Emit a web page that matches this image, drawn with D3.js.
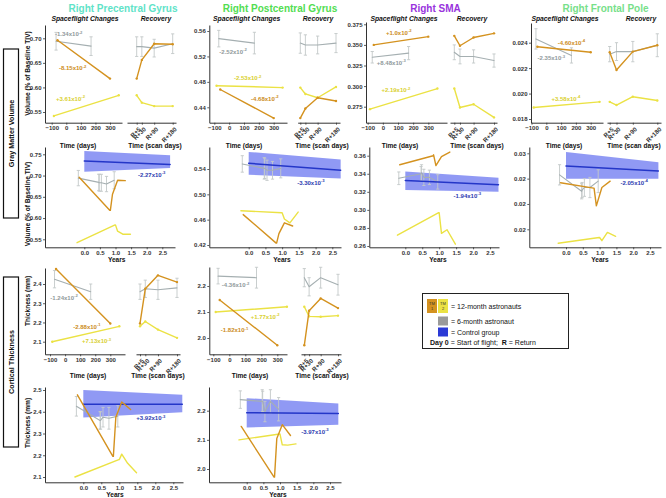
<!DOCTYPE html>
<html><head><meta charset="utf-8">
<script src="https://cdn.jsdelivr.net/npm/d3@7"></script>
<style>
html,body{margin:0;padding:0;background:#fff;}
svg{display:block;}
</style></head><body>
<svg id="chart" width="666" height="498"></svg>
<script>
// ---------------- DATA ----------------
const tickDays = [-100, 0, 100, 200, 300];
const tickYears = [0, 0.5, 1, 1.5, 2, 2.5];
const recoveryDays = [5, 30, 90, 180];
const recoveryLabels = ["R+5", "R+30", "R+90", "R+180"];
const tm1FlightDays = [-60, 300];
const tm2FlightDays = [-85, 360];
const sixFlightDays = [-70, 170];
const controlYears = [0, 2.75];

// Gray matter volume – Right Precentral Gyrus
const gmPreTM1 = [0.696, 0.618];
const gmPreTM1Rec = [0.618, 0.656, 0.689, 0.688];
const gmPreTM2 = [0.542, 0.584];
const gmPreTM2Rec = [0.584, 0.569, 0.562, 0.562];
const gmPreSix = [0.694, 0.684];
const gmPreSixErr = [0.018, 0.019];
const gmPreSixRec = [0.683, 0.683, 0.680, 0.689];
const gmPreSixRecErr = [0.02, 0.02, 0.018, 0.02];
const gmPreCtrl = [0.734, 0.726];
const gmPreCtrlHi = [0.758, 0.748];
const gmPreCtrlLo = [0.709, 0.718];
const gmPreSlopes = [["-8.15", "-2"], ["+3.61", "-2"], ["-1.34", "-2"], ["-2.27", "-3"]];
const gmPreYTicks = [0.55, 0.60, 0.65, 0.70];
const gmPreYearTicks = [0.55, 0.60, 0.65, 0.70, 0.75];

// Gray matter volume – Right Postcentral Gyrus
const gmPostTM1 = [0.468, 0.423];
const gmPostTM1Rec = [0.423, 0.438, 0.455, 0.450];
const gmPostTM2 = [0.474, 0.471];
const gmPostTM2Rec = [0.471, 0.461, 0.455, 0.472];
const gmPostSix = [0.548, 0.541];
const gmPostSixErr = [0.013, 0.017];
const gmPostSixRec = [0.541, 0.538, 0.538, 0.541];
const gmPostSixRecErr = [0.016, 0.016, 0.014, 0.015];
const gmPostCtrl = [0.549, 0.538];
const gmPostCtrlHi = [0.567, 0.555];
const gmPostCtrlLo = [0.531, 0.525];
const gmPostSlopes = [["-4.68", "-2"], ["-2.53", "-2"], ["-2.52", "-2"], ["-3.30", "-3"]];
const gmPostYTicks = [0.44, 0.48, 0.52, 0.56];
const gmPostYearTicks = [0.42, 0.46, 0.50, 0.54];

// Gray matter volume – Right SMA
const gmSmaTM1 = [0.350, 0.360];
const gmSmaTM1Rec = [0.361, 0.349, 0.359, 0.364];
const gmSmaTM2 = [0.272, 0.297];
const gmSmaTM2Rec = [0.297, 0.274, 0.278, 0.262];
const gmSmaSix = [0.335, 0.340];
const gmSmaSixErr = [0.007, 0.008];
const gmSmaSixRec = [0.341, 0.336, 0.336, 0.331];
const gmSmaSixRecErr = [0.009, 0.009, 0.008, 0.008];
const gmSmaCtrl = [0.3326, 0.3278];
const gmSmaCtrlHi = [0.3426, 0.3356];
const gmSmaCtrlLo = [0.3219, 0.3200];
const gmSmaSlopes = [["+1.0", "-2"], ["+2.19", "-2"], ["+8.48", "-3"], ["-1.94", "-3"]];
const gmSmaYTicks = [0.275, 0.300, 0.325, 0.350, 0.375];
const gmSmaYearTicks = [0.26, 0.28, 0.30, 0.32, 0.34, 0.36];

// Gray matter volume – Right Frontal Pole
const gmFroTM1 = [0.02368, 0.02325];
const gmFroTM1Rec = [0.02325, 0.02185, 0.0233, 0.0238];
const gmFroTM2 = [0.0189, 0.01935];
const gmFroTM2Rec = [0.01935, 0.0191, 0.01975, 0.01945];
const gmFroSix = [0.0243, 0.0230];
const gmFroSixErr = [0.0008, 0.0006];
const gmFroSixRec = [0.0231, 0.0233, 0.0233, 0.0238];
const gmFroSixRecErr = [0.0006, 0.0007, 0.0008, 0.0009];
const gmFroCtrl = [0.0250, 0.0246];
const gmFroCtrlHi = [0.0261, 0.0253];
const gmFroCtrlLo = [0.0240, 0.0240];
const gmFroSlopes = [["-4.60", "-4"], ["+3.58", "-4"], ["-2.35", "-3"], ["-2.05", "-4"]];
const gmFroYTicks = [0.018, 0.020, 0.022, 0.024];
const gmFroYearTicks = [0.020, 0.022, 0.024, 0.026];

// Cortical thickness – Right Precentral Gyrus
const ctPreTM1 = [2.478, 2.195];
const ctPreTM1Rec = [2.195, 2.375, 2.445, 2.41];
const ctPreTM2 = [2.10, 2.18];
const ctPreTM2Rec = [2.18, 2.205, 2.163, 2.12];
const ctPreSix = [2.425, 2.36];
const ctPreSixErr = [0.045, 0.04];
const ctPreSixRec = [2.36, 2.375, 2.37, 2.38];
const ctPreSixRecErr = [0.04, 0.045, 0.05, 0.05];
const ctPreCtrl = [2.435, 2.435];
const ctPreCtrlHi = [2.50, 2.478];
const ctPreCtrlLo = [2.373, 2.398];
const ctPreSlopes = [["-2.88", "-1"], ["+7.13", "-3"], ["-1.24", "-2"], ["+3.92", "-3"]];
const ctPreYTicks = [2.1, 2.2, 2.3, 2.4];
const ctPreYearTicks = [2.1, 2.2, 2.3, 2.4, 2.5];

// Cortical thickness – Right Postcentral Gyrus
const ctPostTM1 = [2.146, 1.972];
const ctPostTM1Rec = [1.972, 2.105, 2.152, 2.115];
const ctPostTM2 = [2.10, 2.12];
const ctPostTM2Rec = [2.12, 2.083, 2.082, 2.086];
const ctPostSix = [2.238, 2.232];
const ctPostSixErr = [0.03, 0.04];
const ctPostSixRec = [2.232, 2.197, 2.232, 2.205];
const ctPostSixRecErr = [0.035, 0.035, 0.04, 0.04];
const ctPostCtrl = [2.193, 2.190];
const ctPostCtrlHi = [2.243, 2.225];
const ctPostCtrlLo = [2.142, 2.152];
const ctPostSlopes = [["-1.82", "-1"], ["+1.77", "-2"], ["-4.36", "-2"], ["-3.97", "-3"]];
const ctPostYTicks = [2.0, 2.1, 2.2];
const ctPostYearTicks = [2.0, 2.1, 2.2];

const columnTitles = ["Right Precentral Gyrus", "Right Postcentral Gyrus", "Right SMA", "Right Frontal Pole"];
const legendLabels = ["= 12-month astronauts", "= 6-month astronaut", "= Control group"];

// ---------------- STYLE / LAYOUT ----------------
const FONT = '"Liberation Sans", Arial, Helvetica, sans-serif';
const COL = {
  tm1: "#d4921f", tm2: "#ebe244", six: "#a5afb1", err: "#c3c8c8",
  ctrl: "#2436c8", band: "#8790f3", axis: "#333",
  tm1Txt: "#cc8c22", tm2Txt: "#d9d030", sixTxt: "#8f999b", ctrlTxt: "#2c3bb0"
};
const titleColors = ["#5fe3c8", "#52dd52", "#9933dd", "#77e08a"];

const layout = {
  gmPre: {
    f: {x0: 45, x1: 122, y0: 25, y1: 122.7, xa: [-100, 51.7], xb: [300, 110], ya: [0.55, 112], yb: [0.70, 38.3]},
    r: {x0: 127, x1: 176, xa: [5, 136.7], xb: [180, 172.7]},
    y: {x0: 45, x1: 175, y0: 147, y1: 247.3, xa: [0, 84.3], xb: [2.5, 162.3], ya: [0.55, 239.3], yb: [0.75, 154.3]},
    ann: {tm1: [44, 0.639], tm2: [29, 0.577], six: [17, 0.708], ctrl: [2.16, 0.702]}
  },
  gmPost: {
    f: {x0: 209.3, x1: 287, y0: 25, y1: 122.7, xa: [-100, 214.3], xb: [300, 273.7], ya: [0.44, 107.3], yb: [0.56, 31]},
    r: {x0: 297.7, x1: 340, xa: [5, 300.3], xb: [180, 336]},
    y: {x0: 209.3, x1: 341, y0: 147, y1: 247.3, xa: [0, 248.7], xb: [2.5, 332.3], ya: [0.42, 245], yb: [0.54, 169]},
    ann: {tm1: [240, 0.4535], tm2: [125, 0.4857], six: [26, 0.5274], ctrl: [1.86, 0.5183]}
  },
  gmSma: {
    f: {x0: 366, x1: 447, y0: 22, y1: 122.7, xa: [-100, 367.7], xb: [300, 428.3], ya: [0.275, 106.7], yb: [0.375, 24.3]},
    r: {x0: 450, x1: 497, xa: [5, 454.3], xb: [180, 494]},
    y: {x0: 369.3, x1: 499, y0: 147, y1: 247.3, xa: [0, 405.3], xb: [2.5, 490], ya: [0.26, 246], yb: [0.36, 155.7]},
    ann: {tm1: [105, 0.365], tm2: [86, 0.295], six: [56, 0.3286], ctrl: [1.83, 0.3159]}
  },
  gmFro: {
    f: {x0: 531, x1: 603, y0: 23, y1: 122.7, xa: [-100, 531.5], xb: [300, 590.7], ya: [0.018, 119], yb: [0.024, 42.7]},
    r: {x0: 607, x1: 661, xa: [5, 609.7], xb: [180, 657.3]},
    y: {x0: 529.3, x1: 661, y0: 147, y1: 247.3, xa: [0, 566], xb: [2.5, 650], ya: [0.020, 229.3], yb: [0.026, 153.3]},
    ann: {tm1: [170, 0.0240], tm2: [133, 0.01959], six: [34, 0.02277], ctrl: [2.03, 0.02368]}
  },
  ctPre: {
    f: {x0: 45, x1: 125, y0: 268, y1: 354.3, xa: [-100, 50], xb: [300, 110.3], ya: [2.1, 341.7], yb: [2.4, 284]},
    r: {x0: 136, x1: 180, xa: [5, 140], xb: [180, 177]},
    y: {x0: 45, x1: 183, y0: 387, y1: 482.3, xa: [0, 83.3], xb: [2.5, 173.3], ya: [2.1, 477], yb: [2.5, 390]},
    ann: {tm1: [145, 2.178], tm2: [209, 2.103], six: [-7, 2.329], ctrl: [1.875, 2.37]}
  },
  ctPost: {
    f: {x0: 209.3, x1: 287, y0: 267, y1: 354.3, xa: [-100, 213.3], xb: [300, 277.3], ya: [2.0, 338], yb: [2.2, 286]},
    r: {x0: 301, x1: 341, xa: [5, 304.3], xb: [180, 338]},
    y: {x0: 209, x1: 341, y0: 387, y1: 482.3, xa: [0, 246.7], xb: [2.5, 330], ya: [2.0, 469], yb: [2.2, 410.7]},
    ann: {tm1: [33, 2.031], tm2: [224, 2.082], six: [39, 2.204], ctrl: [2.05, 2.128]}
  }
};

const regions = [
  {lay: layout.gmPre, tm1: gmPreTM1, tm1Rec: gmPreTM1Rec, tm2: gmPreTM2, tm2Rec: gmPreTM2Rec, six: gmPreSix, sixErr: gmPreSixErr, sixRec: gmPreSixRec, sixRecErr: gmPreSixRecErr, ctrl: gmPreCtrl, ctrlHi: gmPreCtrlHi, ctrlLo: gmPreCtrlLo, slopes: gmPreSlopes, yTicks: gmPreYTicks, yFmt: ".2f", yearTicks: gmPreYearTicks, yearFmt: ".2f"},
  {lay: layout.gmPost, tm1: gmPostTM1, tm1Rec: gmPostTM1Rec, tm2: gmPostTM2, tm2Rec: gmPostTM2Rec, six: gmPostSix, sixErr: gmPostSixErr, sixRec: gmPostSixRec, sixRecErr: gmPostSixRecErr, ctrl: gmPostCtrl, ctrlHi: gmPostCtrlHi, ctrlLo: gmPostCtrlLo, slopes: gmPostSlopes, yTicks: gmPostYTicks, yFmt: ".2f", yearTicks: gmPostYearTicks, yearFmt: ".2f"},
  {lay: layout.gmSma, tm1: gmSmaTM1, tm1Rec: gmSmaTM1Rec, tm2: gmSmaTM2, tm2Rec: gmSmaTM2Rec, six: gmSmaSix, sixErr: gmSmaSixErr, sixRec: gmSmaSixRec, sixRecErr: gmSmaSixRecErr, ctrl: gmSmaCtrl, ctrlHi: gmSmaCtrlHi, ctrlLo: gmSmaCtrlLo, slopes: gmSmaSlopes, yTicks: gmSmaYTicks, yFmt: ".3f", yearTicks: gmSmaYearTicks, yearFmt: ".2f"},
  {lay: layout.gmFro, tm1: gmFroTM1, tm1Rec: gmFroTM1Rec, tm2: gmFroTM2, tm2Rec: gmFroTM2Rec, six: gmFroSix, sixErr: gmFroSixErr, sixRec: gmFroSixRec, sixRecErr: gmFroSixRecErr, ctrl: gmFroCtrl, ctrlHi: gmFroCtrlHi, ctrlLo: gmFroCtrlLo, slopes: gmFroSlopes, yTicks: gmFroYTicks, yFmt: ".3f", yearTicks: gmFroYearTicks, yearFmt: ".2f"},
  {lay: layout.ctPre, tm1: ctPreTM1, tm1Rec: ctPreTM1Rec, tm2: ctPreTM2, tm2Rec: ctPreTM2Rec, six: ctPreSix, sixErr: ctPreSixErr, sixRec: ctPreSixRec, sixRecErr: ctPreSixRecErr, ctrl: ctPreCtrl, ctrlHi: ctPreCtrlHi, ctrlLo: ctPreCtrlLo, slopes: ctPreSlopes, yTicks: ctPreYTicks, yFmt: ".1f", yearTicks: ctPreYearTicks, yearFmt: ".1f"},
  {lay: layout.ctPost, tm1: ctPostTM1, tm1Rec: ctPostTM1Rec, tm2: ctPostTM2, tm2Rec: ctPostTM2Rec, six: ctPostSix, sixErr: ctPostSixErr, sixRec: ctPostSixRec, sixRecErr: ctPostSixRecErr, ctrl: ctPostCtrl, ctrlHi: ctPostCtrlHi, ctrlLo: ctPostCtrlLo, slopes: ctPostSlopes, yTicks: ctPostYTicks, yFmt: ".1f", yearTicks: ctPostYearTicks, yearFmt: ".1f"}
];

// ---------------- HELPERS ----------------
const svg = d3.select("#chart").attr("font-family", FONT);

function lin(a, b, p0, p1) {
  const s = d3.scaleLinear().domain([a[0], b[0]]).range([a[1], b[1]]);
  return d3.scaleLinear().domain([s.invert(p0), s.invert(p1)]).range([p0, p1]);
}
function styleAxis(gg) {
  gg.attr("font-family", FONT);
  gg.select(".domain").attr("stroke", COL.axis).attr("stroke-width", 1);
  gg.selectAll(".tick line").attr("stroke", COL.axis).attr("stroke-width", 0.8);
  gg.selectAll(".tick text").attr("fill", "#333").attr("font-size", 6).attr("font-weight", "bold");
}
function bottomAxis(g, x, y, ticks, fmt) {
  const gg = g.append("g").attr("transform", `translate(0,${y})`)
    .call(d3.axisBottom(x).tickValues(ticks).tickFormat(fmt).tickSize(2).tickSizeOuter(0).tickPadding(1));
  styleAxis(gg);
  return gg;
}
function leftAxis(g, y, x, ticks, fmt) {
  const gg = g.append("g").attr("transform", `translate(${x},0)`)
    .call(d3.axisLeft(y).tickValues(ticks).tickFormat(fmt).tickSize(2).tickSizeOuter(0).tickPadding(1.5));
  styleAxis(gg);
}
function drawLine(g, pts, xs, ys, color, w) {
  g.append("path").datum(pts)
    .attr("d", d3.line().x(d => xs(d[0])).y(d => ys(d[1])))
    .attr("fill", "none").attr("stroke", color).attr("stroke-width", w)
    .attr("stroke-linejoin", "round").attr("stroke-linecap", "round");
}
function drawDots(g, pts, xs, ys, color) {
  g.selectAll(null).data(pts).join("circle")
    .attr("cx", d => xs(d[0])).attr("cy", d => ys(d[1])).attr("r", 1.2).attr("fill", color);
}
function drawErr(g, pts, errs, xs, ys) {
  g.selectAll(null).data(pts).join("path")
    .attr("d", (d, i) => {
      const cx = xs(d[0]), t = ys(d[1] + errs[i]), b = ys(d[1] - errs[i]);
      return `M${cx - 1.6},${t}H${cx + 1.6}M${cx},${t}V${b}M${cx - 1.6},${b}H${cx + 1.6}`;
    })
    .attr("fill", "none").attr("stroke", COL.err).attr("stroke-width", 0.9);
}
function slopeText(g, x, y, lab, color) {
  const t = g.append("text").attr("x", x).attr("y", y).attr("text-anchor", "middle")
    .attr("dominant-baseline", "central").attr("font-size", 6).attr("font-weight", "bold").attr("fill", color);
  t.append("tspan").text(lab[0] + "x10");
  t.append("tspan").attr("dy", -2.4).attr("font-size", 4.2).text(lab[1]);
}
function pair(xv, vals) { return xv.map((d, i) => [d, vals[i]]); }
function yearsSeries(fDays, fVals, rVals) {
  const end = fDays[1];
  const days = fDays.concat(recoveryDays.map(d => end + d));
  const vals = fVals.concat(rVals);
  return days.map((d, i) => [d / 365.25, vals[i]]);
}

// ---------------- DRAW REGIONS ----------------
regions.forEach(R => {
  const L = R.lay;
  const g = svg.append("g");
  const fx = lin(L.f.xa, L.f.xb, L.f.x0, L.f.x1);
  const fy = lin(L.f.ya, L.f.yb, L.f.y1, L.f.y0);
  const rx = lin(L.r.xa, L.r.xb, L.r.x0, L.r.x1);

  // spaceflight panel
  bottomAxis(g, fx, L.f.y1, tickDays, d3.format("d"));
  leftAxis(g, fy, L.f.x0, R.yTicks, d3.format(R.yFmt));
  const sixF = pair(sixFlightDays, R.six);
  drawErr(g, sixF, R.sixErr, fx, fy);
  drawLine(g, sixF, fx, fy, COL.six, 1.1);
  const tm2F = pair(tm2FlightDays, R.tm2), tm1F = pair(tm1FlightDays, R.tm1);
  drawLine(g, tm2F, fx, fy, COL.tm2, 1.4);
  drawDots(g, tm2F, fx, fy, COL.tm2);
  drawLine(g, tm1F, fx, fy, COL.tm1, 1.4);
  drawDots(g, tm1F, fx, fy, COL.tm1);
  slopeText(g, fx(L.ann.tm1[0]), fy(L.ann.tm1[1]), R.slopes[0], COL.tm1Txt);
  slopeText(g, fx(L.ann.tm2[0]), fy(L.ann.tm2[1]), R.slopes[1], COL.tm2Txt);
  slopeText(g, fx(L.ann.six[0]), fy(L.ann.six[1]), R.slopes[2], COL.sixTxt);

  // recovery panel
  const rax = bottomAxis(g, rx, L.f.y1, recoveryDays, (d, i) => recoveryLabels[i]);
  rax.selectAll(".tick text").attr("y", 0).attr("dy", "0.35em").attr("font-size", 6.2)
    .attr("text-anchor", "end").attr("transform", "translate(2.5,5.5) rotate(-45)");
  const sixR = pair(recoveryDays, R.sixRec);
  drawErr(g, sixR, R.sixRecErr, rx, fy);
  drawLine(g, sixR, rx, fy, COL.six, 1.1);
  const tm2R = pair(recoveryDays, R.tm2Rec), tm1R = pair(recoveryDays, R.tm1Rec);
  drawLine(g, tm2R, rx, fy, COL.tm2, 1.4);
  drawDots(g, tm2R, rx, fy, COL.tm2);
  drawLine(g, tm1R, rx, fy, COL.tm1, 1.4);
  drawDots(g, tm1R, rx, fy, COL.tm1);

  // combined years panel
  const yx = lin(L.y.xa, L.y.xb, L.y.x0, L.y.x1);
  const yy = lin(L.y.ya, L.y.yb, L.y.y1, L.y.y0);
  bottomAxis(g, yx, L.y.y1, tickYears, d3.format(".1f"));
  leftAxis(g, yy, L.y.x0, R.yearTicks, d3.format(R.yearFmt));
  const band = controlYears.map((d, i) => ({x: d, hi: R.ctrlHi[i], lo: R.ctrlLo[i]}));
  g.append("path").datum(band)
    .attr("d", d3.area().x(d => yx(d.x)).y0(d => yy(d.lo)).y1(d => yy(d.hi)))
    .attr("fill", COL.band).attr("fill-opacity", 0.92);
  const sixY = yearsSeries(sixFlightDays, R.six, R.sixRec);
  drawErr(g, sixY, R.sixErr.concat(R.sixRecErr), yx, yy);
  drawLine(g, sixY, yx, yy, COL.six, 1.1);
  drawLine(g, pair(controlYears, R.ctrl), yx, yy, COL.ctrl, 1.5);
  drawLine(g, yearsSeries(tm2FlightDays, R.tm2, R.tm2Rec), yx, yy, COL.tm2, 1.4);
  drawLine(g, yearsSeries(tm1FlightDays, R.tm1, R.tm1Rec), yx, yy, COL.tm1, 1.4);
  slopeText(g, yx(L.ann.ctrl[0]), yy(L.ann.ctrl[1]), R.slopes[3], COL.ctrlTxt);
});

// ---------------- TEXT ----------------
const titleX = [123, 280, 435.5, 605.5];
columnTitles.forEach((t, i) => {
  svg.append("text").attr("x", titleX[i]).attr("y", 12).attr("text-anchor", "middle")
    .attr("font-size", 10).attr("font-weight", "bold").attr("fill", titleColors[i]).text(t);
});
const subX = [[85, 156], [246.7, 318], [404, 472], [565, 641]];
subX.forEach(p => {
  svg.append("text").attr("x", p[0]).attr("y", 21).attr("text-anchor", "middle").attr("font-size", 6.8)
    .attr("font-weight", "bold").attr("font-style", "italic").attr("fill", "#111").text("Spaceflight Changes");
  svg.append("text").attr("x", p[1]).attr("y", 21).attr("text-anchor", "middle").attr("font-size", 6.8)
    .attr("font-weight", "bold").attr("font-style", "italic").attr("fill", "#111").text("Recovery");
});
function axTitle(x, y, t, rot) {
  const e = svg.append("text").attr("text-anchor", "middle").attr("font-size", 6.6)
    .attr("font-weight", "bold").attr("fill", "#111").text(t);
  if (rot) e.attr("transform", `translate(${x},${y}) rotate(-90)`);
  else e.attr("x", x).attr("y", y);
}
[[78, 155], [244, 322], [400, 477], [564, 634]].forEach(p => {
  axTitle(p[0], 148, "Time (days)");
  axTitle(p[1], 148, "Time (scan days)");
});
[116.7, 282, 438, 600].forEach(x => axTitle(x, 261.5, "Years"));
[[88, 158], [250, 322]].forEach(p => {
  axTitle(p[0], 378, "Time (days)");
  axTitle(p[1], 378, "Time (scan days)");
});
[115, 278].forEach(x => axTitle(x, 496.5, "Years"));
axTitle(29.5, 73.5, "Volume (% of Baseline TIV)", true);
axTitle(29.5, 204, "Volume (% of Baseline TIV)", true);
axTitle(29.5, 301, "Thickness (mm)", true);
axTitle(29.5, 423, "Thickness (mm)", true);

// side boxes
function sideBox(y0, y1, t) {
  svg.append("rect").attr("x", 3.5).attr("y", y0).attr("width", 15).attr("height", y1 - y0)
    .attr("fill", "none").attr("stroke", "#111").attr("stroke-width", 1.2);
  svg.append("text").attr("transform", `translate(13.6,${(y0 + y1) / 2}) rotate(-90)`)
    .attr("text-anchor", "middle").attr("font-size", 7.2).attr("font-weight", "bold").attr("fill", "#111").text(t);
}
sideBox(49, 218, "Gray Matter Volume");
sideBox(277, 447, "Cortical Thickness");

// legend
const lg = svg.append("g");
lg.append("rect").attr("x", 422.5).attr("y", 293.5).attr("width", 146).attr("height", 55)
  .attr("fill", "#fff").attr("stroke", "#222").attr("stroke-width", 1);
[[427, COL.tm1, "1"], [438, COL.tm2, "2"]].forEach(s => {
  lg.append("rect").attr("x", s[0]).attr("y", 299).attr("width", 10).attr("height", 14).attr("fill", s[1]);
  lg.append("text").attr("x", s[0] + 5).attr("y", 304.5).attr("text-anchor", "middle").attr("font-size", 4).attr("fill", "#333").text("TM");
  lg.append("text").attr("x", s[0] + 5).attr("y", 310).attr("text-anchor", "middle").attr("font-size", 4).attr("fill", "#333").text(s[2]);
});
lg.append("rect").attr("x", 438).attr("y", 316.5).attr("width", 10).attr("height", 9).attr("fill", "#9a9a9a");
lg.append("rect").attr("x", 438).attr("y", 327.5).attr("width", 10).attr("height", 9).attr("fill", "#2b3ad6");
[309, 323.5, 334.5].forEach((y, i) => {
  lg.append("text").attr("x", 451).attr("y", y).attr("font-size", 7).attr("fill", "#111").text(legendLabels[i]);
});
const lt = lg.append("text").attr("x", 430).attr("y", 345).attr("font-size", 7).attr("fill", "#111");
lt.append("tspan").attr("font-weight", "bold").text("Day 0");
lt.append("tspan").text(" = Start of flight;\u00a0\u00a0");
lt.append("tspan").attr("font-weight", "bold").text("R");
lt.append("tspan").text(" = Return");
</script></body></html>
